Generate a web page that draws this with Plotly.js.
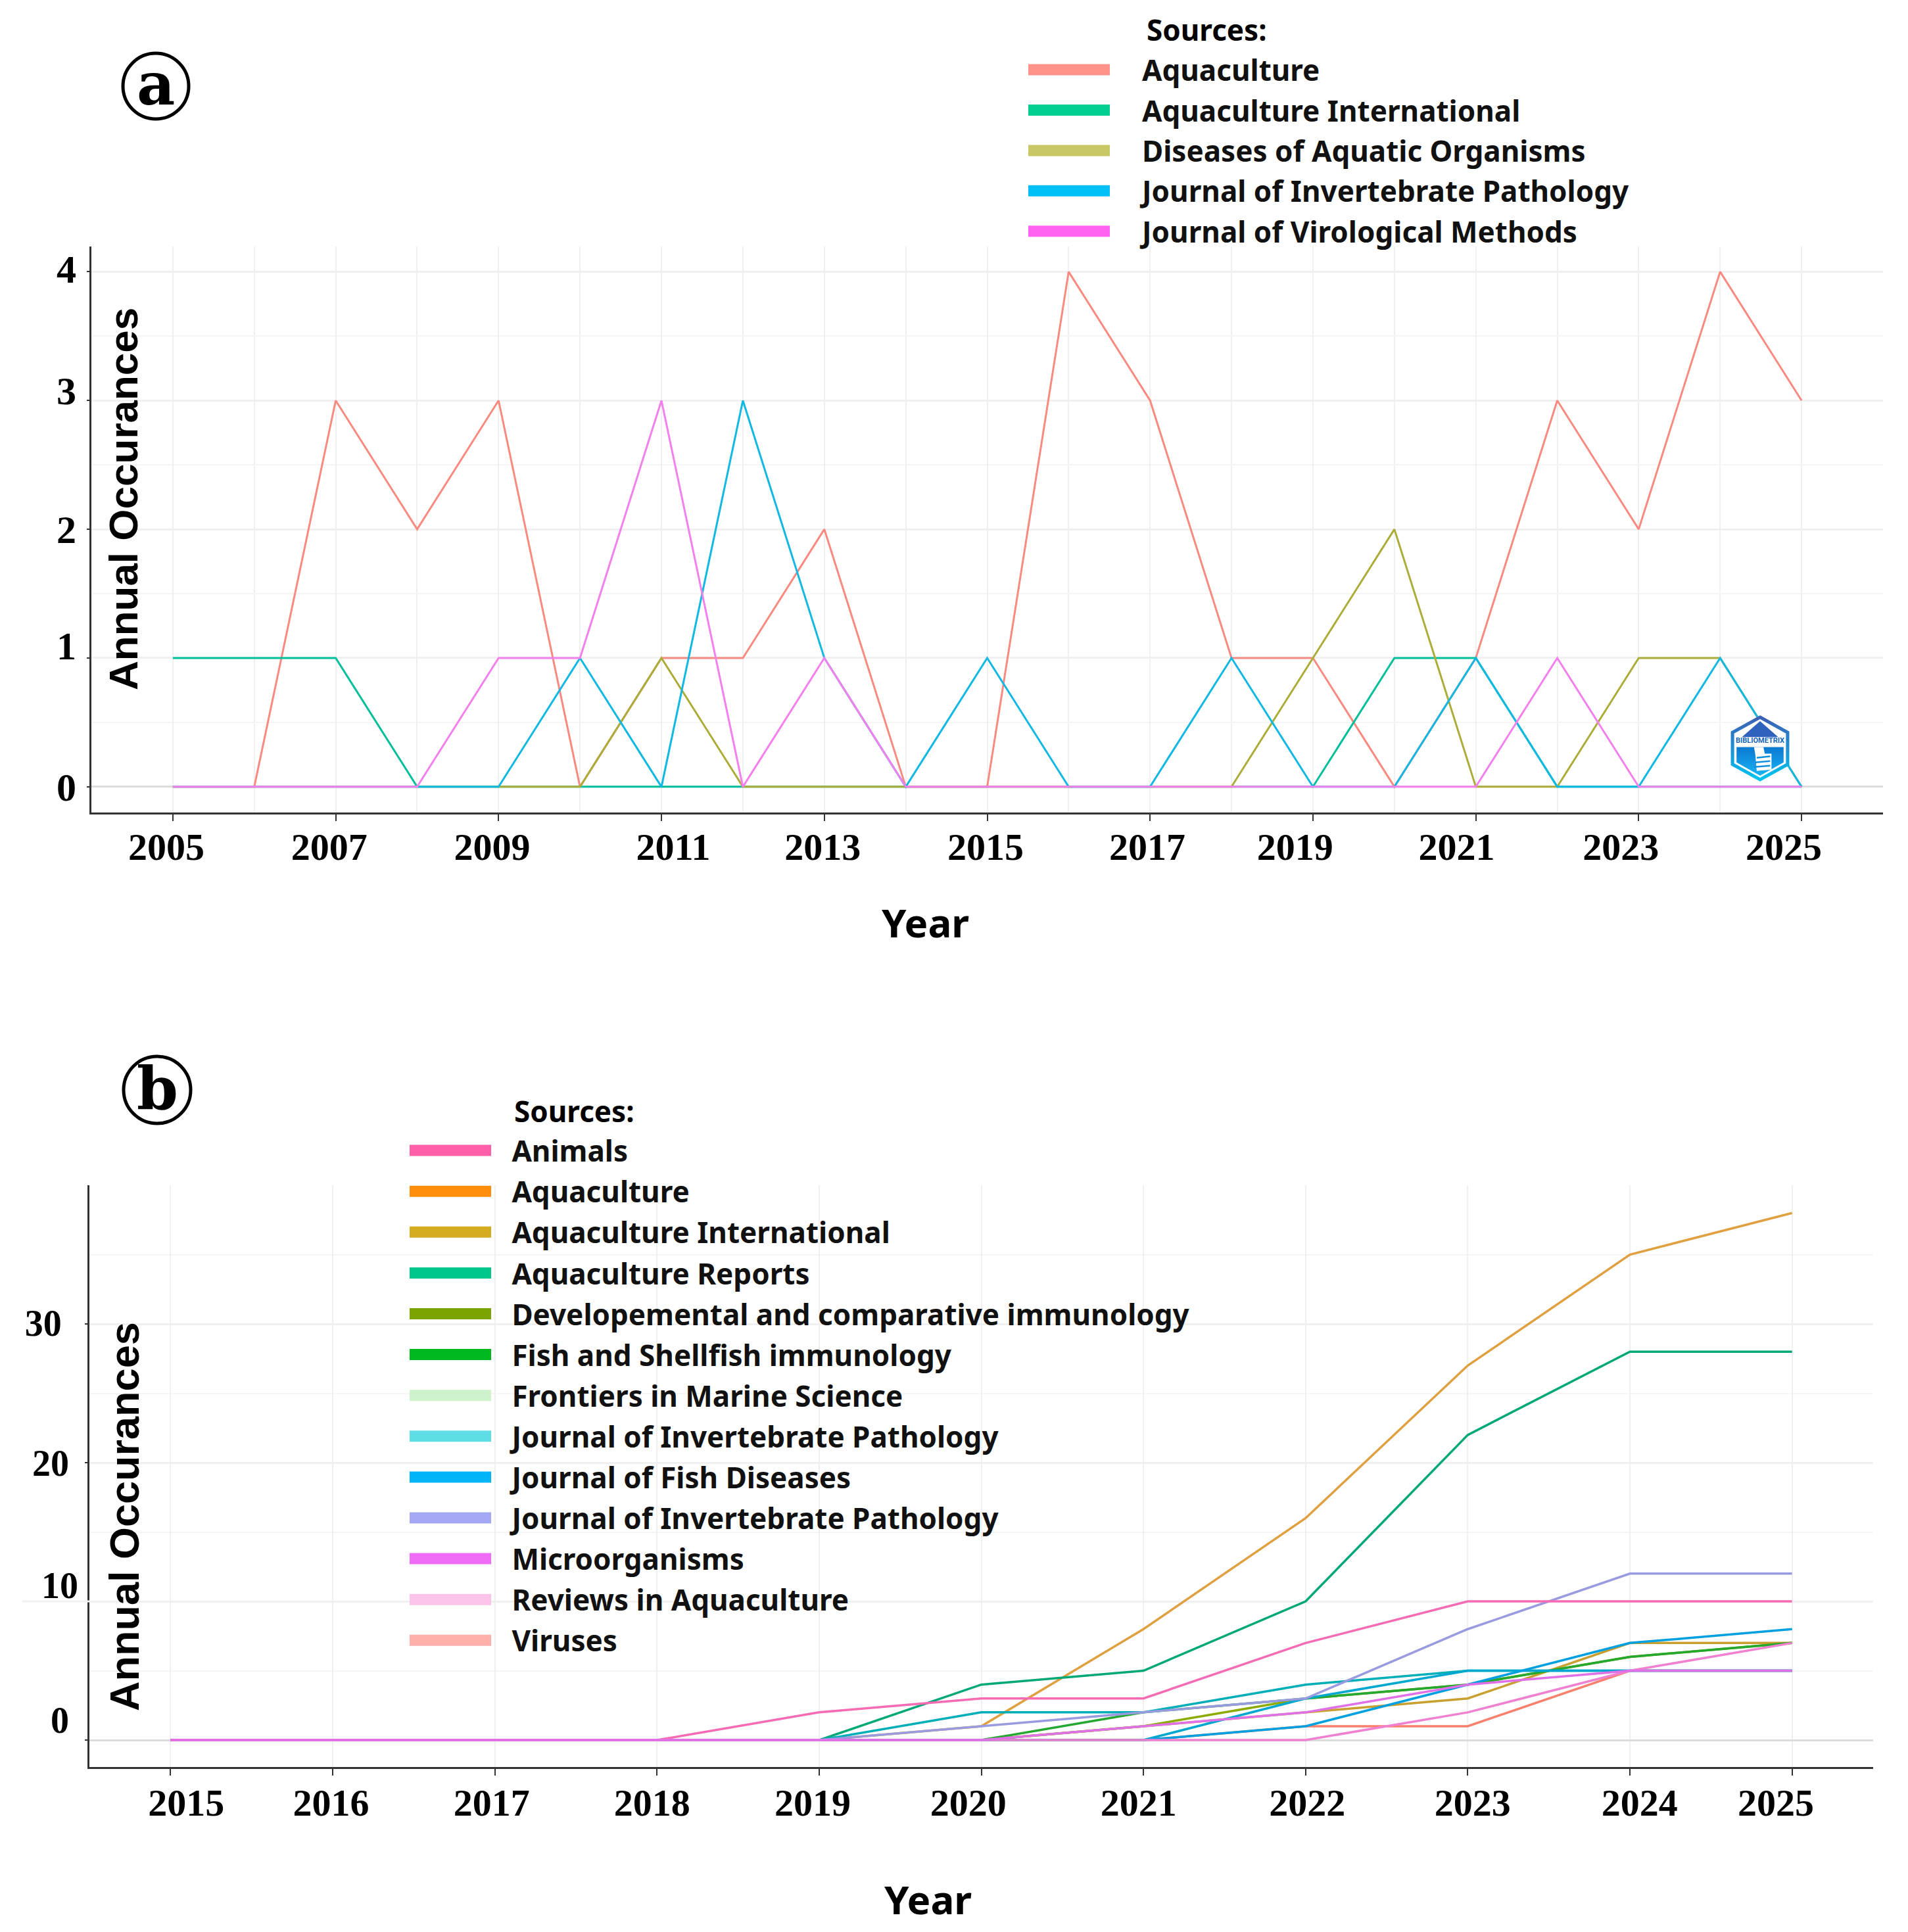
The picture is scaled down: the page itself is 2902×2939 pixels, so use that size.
<!DOCTYPE html>
<html>
<head>
<meta charset="utf-8">
<script src="https://cdn.plot.ly/plotly-3.0.1.min.js"></script>
<style>body{margin:0;background:#fff}</style>
</head>
<body>
<div id="chart" style="width:2902px;height:2939px"></div>
<script>
var W = 2902, H = 2939;

// panel a
var yearsA = [2005,2006,2007,2008,2009,2010,2011,2012,2013,2014,2015,2016,2017,2018,2019,2020,2021,2022,2023,2024,2025];
var aquacultureA = [0,0,3,2,3,0,1,1,2,0,0,4,3,1,1,0,1,3,2,4,3];
var aquaIntlA =    [1,1,1,0,0,0,0,0,0,0,0,0,0,0,0,1,1,0,0,0,0];
var diseasesA =    [0,0,0,0,0,0,1,0,0,0,0,0,0,0,1,2,0,0,1,1,0];
var invertA =      [0,0,0,0,0,1,0,3,1,0,1,0,0,1,0,0,1,0,0,1,0];
var virolA =       [0,0,0,0,1,1,3,0,1,0,0,0,0,0,0,0,0,1,0,0,0];
var namesA = ['Aquaculture','Aquaculture International','Diseases of Aquatic Organisms','Journal of Invertebrate Pathology','Journal of Virological Methods'];
var lineColA = ['#FA8A80','#00BF9A','#ABAD38','#10B8E4','#F480EE'];
var keyColA = ['#FF9289','#00CF91','#C8C864','#00BFF5','#FF62F2'];
var tickYearsA = [2005,2007,2009,2011,2013,2015,2017,2019,2021,2023,2025];
var labelShiftA = [-0.08,-0.08,-0.08,0.145,-0.02,-0.02,-0.035,-0.22,-0.235,-0.22,-0.22];
var yTicksA = [0,1,2,3,4];
var yShiftA = [0,0.097,0,0.078,0.02];

// panel b
var yearsB = [2015,2016,2017,2018,2019,2020,2021,2022,2023,2024,2025];
var animals =    [0,0,0,0,2,3,3,7,10,10,10];
var aquaculture =[0,0,0,0,0,1,8,16,27,35,38];
var aquaIntl =   [0,0,0,0,0,0,1,2,3,7,7];
var aquaReports =[0,0,0,0,0,4,5,10,22,28,28];
var develImm =   [0,0,0,0,0,0,1,3,4,6,7];
var fishShell =  [0,0,0,0,0,0,2,3,4,6,7];
var frontiers =  [0,0,0,0,0,0,0,3,5,5,5];
var invert1 =    [0,0,0,0,0,2,2,4,5,5,5];
var fishDis =    [0,0,0,0,0,0,0,1,4,7,8];
var invert2 =    [0,0,0,0,0,1,2,3,8,12,12];
var microorg =   [0,0,0,0,0,0,1,2,4,5,5];
var reviews =    [0,0,0,0,0,0,0,0,2,5,7];
var viruses =    [0,0,0,0,0,0,0,1,1,5,5];
var namesB = ['Animals','Aquaculture','Aquaculture International','Aquaculture Reports','Developemental and comparative immunology','Fish and Shellfish immunology','Frontiers in Marine Science','Journal of Invertebrate Pathology','Journal of Fish Diseases','Journal of Invertebrate Pathology','Microorganisms','Reviews in Aquaculture','Viruses'];
var lineColB = ['#F56CB4','#E0A040','#C8A030','#00A878','#8CAB00','#24A830','#00A8D0','#00AEB8','#00A0E0','#9A9AE0','#E070E8','#F080D0','#F8806D'];
var keyColB = ['#FF5FA8','#FF8C0A','#D4AC20','#00C88C','#7CA400','#00B820','#CDF2CC','#5FDDE4','#00B4F8','#A4A8F4','#F06CF6','#FCC4E8','#FFB0AA'];
var labelShiftB = [0.097,-0.01,-0.02,-0.03,-0.04,-0.08,-0.03,0.01,0.03,0.06,-0.1];
var yTicksB = [0,10,20,30];
var yTextB = ['0\u00a0','10','20\u00a0','30\u00a0\u2009'];
var yShiftB = [1.45,1.15,0,0.1];

var seriesA = [aquacultureA,aquaIntlA,diseasesA,invertA,virolA];
var seriesB = [animals,aquaculture,aquaIntl,aquaReports,develImm,fishShell,frontiers,invert1,fishDis,invert2,microorg,reviews,viruses];
var drawOrderB = [12,1,2,4,5,3,7,6,8,9,0,11,10];

var SANS = 'Noto Sans, sans-serif';
var LEG_FONT = {family:SANS, size:44, color:'#111', weight:700};
var SERIF = 'Liberation Serif, serif';
var GRID = '#f0f0f0';

var data = [];
seriesA.forEach(function(s,i){
  data.push({x:yearsA, y:s, mode:'lines', type:'scatter', name:namesA[i], xaxis:'x', yaxis:'y', showlegend:false, hoverinfo:'none', line:{color:lineColA[i], width:3}});
});
drawOrderB.forEach(function(k){
  data.push({x:yearsB, y:seriesB[k], mode:'lines', type:'scatter', name:namesB[k], xaxis:'x2', yaxis:'y2', showlegend:false, hoverinfo:'none', line:{color:lineColB[k], width:3.5}});
});
// legend keys are much thicker than the lines so they get their own empty traces
namesA.forEach(function(n,i){
  data.push({x:[null], y:[null], mode:'lines', type:'scatter', name:'\u2003'+n, xaxis:'x', yaxis:'y', legend:'legend', legendgroup:'a'+i, line:{color:keyColA[i], width:10}});
});
namesB.forEach(function(n,i){
  data.push({x:[null], y:[null], mode:'lines', type:'scatter', name:'\u2002\u200a'+n, xaxis:'x2', yaxis:'y2', legend:'legend2', legendgroup:'b'+i, line:{color:keyColB[i], width:10}});
});
// empty traces so the label axes get drawn
data.push({x:[null], y:[null], type:'scatter', mode:'lines', xaxis:'x3', yaxis:'y3', showlegend:false, hoverinfo:'none'});
data.push({x:[null], y:[null], type:'scatter', mode:'lines', xaxis:'x4', yaxis:'y4', showlegend:false, hoverinfo:'none'});

function px(v){return v/W;}
function py(v){return 1-v/H;}
function shifted(list,shift){return list.map(function(v,i){return v+shift[i];});}
function xMain(dom,range,anchor,ticks){
  return {domain:dom, range:range, anchor:anchor, tickmode:'array', tickvals:ticks, ticktext:ticks.map(function(){return '';}),
    ticks:'outside', ticklen:10, tickcolor:'#333', tickwidth:2, showline:true, linecolor:'#333', linewidth:3,
    showgrid:true, gridcolor:GRID, gridwidth:2, zeroline:false, minor:{dtick:1, showgrid:true, gridcolor:GRID, gridwidth:2}};
}
function xLabels(dom,range,anchor,over,vals,text,standoff){
  return {domain:dom, range:range, anchor:anchor, overlaying:over, side:'bottom', tickmode:'array', tickvals:vals, ticktext:text.map(String),
    ticks:'', showline:false, showgrid:false, zeroline:false, ticklabelstandoff:standoff,
    tickfont:{family:SERIF, size:58, color:'#000', weight:700}};
}
function yMain(dom,range,anchor,ticks,minorStep){
  return {domain:dom, range:range, anchor:anchor, tickmode:'array', tickvals:ticks, ticktext:ticks.map(function(){return '';}),
    ticks:'outside', ticklen:4, tickcolor:'#333', tickwidth:2, showline:true, linecolor:'#333', linewidth:3,
    showgrid:true, gridcolor:GRID, gridwidth:3, zeroline:true, zerolinecolor:'#dcdcdc', zerolinewidth:3,
    minor:{dtick:minorStep, showgrid:true, gridcolor:'#f5f5f5', gridwidth:2}};
}
function yLabels(dom,range,anchor,over,vals,text,standoff,size){
  return {domain:dom, range:range, anchor:anchor, overlaying:over, side:'left', tickmode:'array', tickvals:vals, ticktext:text.map(String),
    ticks:'', showline:false, showgrid:false, zeroline:false, ticklabelstandoff:standoff,
    tickfont:{family:SERIF, size:size, color:'#000', weight:700}};
}
function note(text,x,y,size,family,extra){
  var a = {text:text, xref:'paper', yref:'paper', x:px(x), y:py(y), xanchor:'center', yanchor:'middle', showarrow:false,
    font:{family:family, size:size, color:'#000', weight:700}};
  for (var k in extra) a[k] = extra[k];
  return a;
}
function legendAt(x,y,gap){
  return {x:px(x), y:py(y), xanchor:'left', yanchor:'top', bgcolor:'rgba(0,0,0,0)', font:LEG_FONT, itemwidth:124,
    tracegroupgap:gap, traceorder:'grouped', itemclick:false, itemdoubleclick:false};
}

var domXA = [px(139),px(2864)], domYA = [py(1236),py(375)];
var domXB = [px(136),px(2849)], domYB = [py(2688),py(1803)];
var rangeXA = [2004,2026], rangeYA = [-0.2,4.196];
var rangeXB = [2014.5,2025.5], rangeYB = [-1.94,40];

var logoSvg = '<svg xmlns="http://www.w3.org/2000/svg" viewBox="0 0 90 100">'
  + '<defs><linearGradient id="g" x1="0" y1="0" x2="0" y2="1"><stop offset="0" stop-color="#3c5fb4"/><stop offset="1" stop-color="#00c4f0"/></linearGradient>'
  + '<linearGradient id="h" x1="0" y1="0" x2="0" y2="1"><stop offset="0" stop-color="#0a78d0"/><stop offset="1" stop-color="#18b4f4"/></linearGradient></defs>'
  + '<path d="M45 3 L86 26 L86 74 L45 97 L4 74 L4 26 Z" fill="#fff" stroke="url(#g)" stroke-width="5"/>'
  + '<path d="M45 9 L72 33 L18 33 Z" fill="#2f62bc"/>'
  + '<path d="M10 48 L80 48 L80 71 L45 91 L10 71 Z" fill="url(#h)"/>'
  + '<path d="M36 48 L50 48 L52 58 L62 58 L62 82 L40 84 L38 60 Z" fill="#fff"/>'
  + '<path d="M40 64 L60 62 M38 71 L60 69 M36 78 L60 76" stroke="#1090dc" stroke-width="2.5"/>'
  + '</svg>';

var layout = {
  width:W, height:H, margin:{l:0,r:0,t:0,b:0,autoexpand:false}, paper_bgcolor:'#fff', plot_bgcolor:'rgba(0,0,0,0)',
  xaxis: xMain(domXA,rangeXA,'y',tickYearsA),
  yaxis: yMain(domYA,rangeYA,'x',yTicksA,0.5),
  xaxis3: xLabels(domXA,rangeXA,'y3','x',shifted(tickYearsA,labelShiftA),tickYearsA,13),
  yaxis3: yLabels(domYA,rangeYA,'x3','y',shifted(yTicksA,yShiftA),yTicksA,22,60),
  xaxis2: xMain(domXB,rangeXB,'y2',yearsB),
  yaxis2: yMain(domYB,rangeYB,'x2',yTicksB,5),
  xaxis4: xLabels(domXB,rangeXB,'y4','x2',shifted(yearsB,labelShiftB),yearsB,15),
  yaxis4: yLabels(domYB,rangeYB,'x4','y2',shifted(yTicksB,yShiftB),yTextB,16,56),
  legend: legendAt(1559,71,1.2),
  legend2: legendAt(618,1715,1.9),
  annotations: [
    note('a',237,127,90,'DejaVu Serif'),
    note('b',239,1655,90,'DejaVu Serif'),
    note('Sources:',1742,45,44,SANS,{xanchor:'left'}),
    note('Sources:',780,1690,44,SANS,{xanchor:'left'}),
    note('Year',1407,1403,60,SANS),
    note('Year',1411,2889,60,SANS),
    note('Annual Occurances',187,759,62,'Liberation Sans, sans-serif',{textangle:-90}),
    note('Annual Occurances',189,2307,63,'Liberation Sans, sans-serif',{textangle:-90}),
    note('BIBLIOMETRIX',2677,1126,11,'Roboto, sans-serif',{font:{family:'Roboto, sans-serif',size:11,color:'#1666b8',weight:700}})
  ],
  shapes: [
    {type:'circle', xref:'paper', yref:'paper', x0:px(187), x1:px(287), y0:py(181), y1:py(81), line:{color:'#000',width:5}},
    {type:'circle', xref:'paper', yref:'paper', x0:px(188), x1:px(290), y0:py(1709), y1:py(1607), line:{color:'#000',width:5}},
    // the 10 gridline runs on past the axis in the source figure
    {type:'line', xref:'paper', yref:'paper', x0:px(34), x1:px(136), y0:py(2436), y1:py(2436), line:{color:GRID,width:3}}
  ],
  images: [
    {source:'data:image/svg+xml;utf8,'+encodeURIComponent(logoSvg), xref:'paper', yref:'paper', x:px(2631), y:py(1088), sizex:px(92), sizey:101/H, sizing:'stretch', xanchor:'left', yanchor:'top', layer:'above'}
  ]
};

Plotly.newPlot('chart', data, layout, {displayModeBar:false, staticPlot:true}).then(function(gd){
  // plotly caps legend line width at 10, reference keys are thicker
  gd.querySelectorAll('.legendlines path').forEach(function(p){ p.style.strokeWidth = '17px'; });
});
</script>
</body>
</html>
